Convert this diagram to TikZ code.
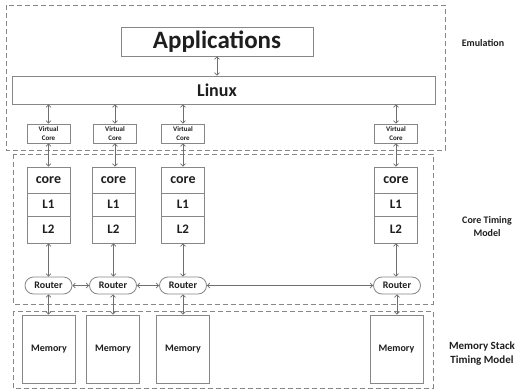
\documentclass[tikz,border=0pt]{standalone}
\usepackage{fontspec}
\setmainfont{Carlito}
\usetikzlibrary{arrows.meta}
\definecolor{edge}{RGB}{135,135,135}
\definecolor{wire}{RGB}{110,110,110}
\definecolor{ink}{RGB}{30,30,30}
\newcommand{\fsz}[2]{\bfseries\fontsize{#1}{#2}\selectfont}

\begin{document}
\begin{tikzpicture}[x=1pt, y=-1pt,
    every node/.style={text=ink, font=\bfseries},
    box/.style={draw=edge, fill=white, line width=0.8pt, inner sep=0pt},
    vcore/.style={box, minimum width=43, minimum height=19, align=center, font=\fsz{7}{8.5}},
    cache/.style={box, minimum width=43, font=\fsz{13}{16}},
    router/.style={box, minimum width=47, minimum height=17, rounded corners=8.5pt, font=\fsz{10}{12}},
    memory/.style={box, minimum width=53, minimum height=68, font=\fsz{10}{12}},
    layer/.style={draw=edge, line width=0.7pt, dash pattern=on 5pt off 3pt},
    link/.style={draw=wire, line width=0.7pt,
      {Straight Barb[length=2.5pt, width=5pt]}-{Straight Barb[length=2.5pt, width=5pt]}}]
    \useasboundingbox (0, 0) rectangle (520, 389);
    % layers
    \draw [layer]     (6, 5) rectangle (445, 150);
    \draw [layer]     (13, 154) rectangle (433, 304);
    \draw [layer]     (13, 311) rectangle (433, 388);
    \node [font=\fsz{10}{12}] (emulation) at (483, 43) {Emulation};
    \node [align=center, font=\fsz{10}{13}] (coretiming) at (487, 227) {Core Timing\\Model};
    \node [align=center, font=\fsz{11}{14}] (memtiming) at (482, 354) {Memory Stack\\Timing Model};
    % emulation
    \node [box, minimum width=192, minimum height=29, font=\fsz{25}{30}] (apps) at (217, 41.5) {Applications};
    \node [box, minimum width=423, minimum height=28, font=\fsz{18}{22}] (linux) at (223.5, 90) {\hspace*{-13pt}Linux};
    \draw [link]     (apps) -- (apps |- linux.north);
    % C1
    \node [vcore] (vc1) at (48.5, 133.5) {Virtual\\Core};
    \node [cache, minimum height=26, font=\fsz{14}{16}] (core1) at (48.5, 180) {core};
    \node [cache, minimum height=23] (lone1) at (48.5, 204.5) {L1};
    \node [cache, minimum height=27] (ltwo1) at (48.5, 229.5) {L2};
    \node [router] (router1) at (48.5, 285.5) {Router};
    \node [memory] (mem1) at (49, 349) {Memory};
    % C2
    \node [vcore] (vc2) at (115, 133.5) {Virtual\\Core};
    \node [cache, minimum height=26, font=\fsz{14}{16}] (core2) at (113.5, 180) {core};
    \node [cache, minimum height=23] (lone2) at (113.5, 204.5) {L1};
    \node [cache, minimum height=27] (ltwo2) at (113.5, 229.5) {L2};
    \node [router] (router2) at (113, 285.5) {Router};
    \node [memory] (mem2) at (113, 349) {Memory};
    % C3
    \node [vcore] (vc3) at (183, 133.5) {Virtual\\Core};
    \node [cache, minimum height=26, font=\fsz{14}{16}] (core3) at (183, 180) {core};
    \node [cache, minimum height=23] (lone3) at (183, 204.5) {L1};
    \node [cache, minimum height=27] (ltwo3) at (183, 229.5) {L2};
    \node [router] (router3) at (183, 285.5) {Router};
    \node [memory] (mem3) at (183, 349) {Memory};
    % C4
    \node [vcore] (vc4) at (396, 133.5) {Virtual\\Core};
    \node [cache, minimum height=26, font=\fsz{14}{16}] (core4) at (396, 180) {core};
    \node [cache, minimum height=23] (lone4) at (396, 204.5) {L1};
    \node [cache, minimum height=27] (ltwo4) at (396, 229.5) {L2};
    \node [router] (router4) at (397, 285.5) {Router};
    \node [memory] (mem4) at (396.5, 349) {Memory};
    % links
    \draw [link]     (vc1 |- linux.south) -- (vc1);
    \draw [link]     (vc2 |- linux.south) -- (vc2);
    \draw [link]     (vc3 |- linux.south) -- (vc3);
    \draw [link]     (vc4 |- linux.south) -- (vc4);
    \draw [link]     (vc1) -- (vc1 |- core1.north);
    \draw [link]     (vc2) -- (vc2 |- core2.north);
    \draw [link]     (vc3) -- (vc3 |- core3.north);
    \draw [link]     (vc4) -- (vc4 |- core4.north);
    \draw [link]     (ltwo1) -- (ltwo1 |- router1.north);
    \draw [link]     (ltwo2) -- (ltwo2 |- router2.north);
    \draw [link]     (ltwo3) -- (ltwo3 |- router3.north);
    \draw [link]     (ltwo4) -- (ltwo4 |- router4.north);
    \draw [link]     (router1) -- (router2);
    \draw [link]     (router2) -- (router3);
    \draw [link]     (router3) -- (router4);
    \draw [link]     (router1) -- (router1 |- mem1.north);
    \draw [link]     (router2) -- (router2 |- mem2.north);
    \draw [link]     (router3) -- (router3 |- mem3.north);
    \draw [link]     (router4) -- (router4 |- mem4.north);
\end{tikzpicture}
\end{document}
